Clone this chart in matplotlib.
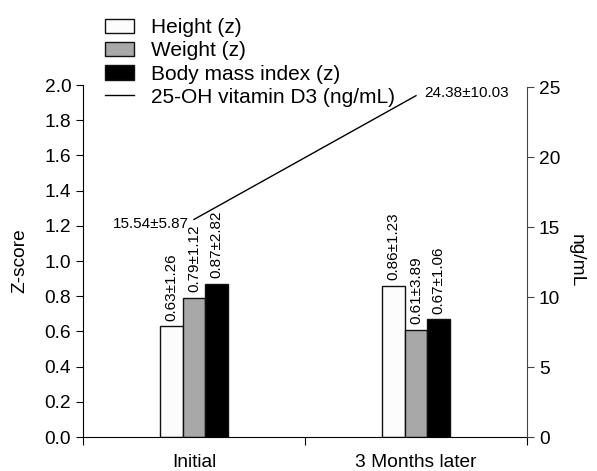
import matplotlib
matplotlib.use("Agg")
import matplotlib.pyplot as plt
from matplotlib.patches import Patch
from matplotlib.lines import Line2D
import numpy as np

plt.rcParams['font.family'] = ['Liberation Sans', 'DejaVu Sans']

categories = ["Initial", "3 Months later"]
height_z = [0.63, 0.86]
weight_z = [0.79, 0.61]
bmi_z = [0.87, 0.67]
height_lbl = ["0.63±1.26", "0.86±1.23"]
weight_lbl = ["0.79±1.12", "0.61±3.89"]
bmi_lbl = ["0.87±2.82", "0.67±1.06"]
vitd = [15.54, 24.38]
vitd_lbl = ["15.54±5.87", "24.38±10.03"]
series_names = ["Height (z)", "Weight (z)", "Body mass index (z)", "25-OH vitamin D3 (ng/mL)"]
left_ticks = [0.0, 0.2, 0.4, 0.6, 0.8, 1.0, 1.2, 1.4, 1.6, 1.8, 2.0]
right_ticks = [0, 5, 10, 15, 20, 25]

TS = 13.8
fig = plt.figure(figsize=(5.97, 4.71), dpi=100)
ax = fig.add_axes([83/597, 1-437/471, (527-83)/597, (437-85)/471])

x = np.arange(len(categories))
w = 0.101
colors = ["#fcfcfc", "#a8a8a8", "#000000"]
for i, (vals, lbls) in enumerate(zip([height_z, weight_z, bmi_z], [height_lbl, weight_lbl, bmi_lbl])):
    pos = x + (i - 1) * w
    ax.bar(pos, vals, width=w, color=colors[i], edgecolor="#111111", linewidth=1.0, zorder=2)
    for p, v, l in zip(pos, vals, lbls):
        ax.annotate(l, (p, v), xytext=(0, 4), textcoords="offset points",
                    rotation=90, ha="center", va="bottom", fontsize=11)

ax.set_xlim(-0.5, 1.5)
ax.set_ylim(0, 2.0)
ax.set_yticks(left_ticks)
ax.set_yticklabels([f"{t:.1f}" for t in left_ticks], fontsize=TS)
ax.set_ylabel("Z-score", fontsize=TS, labelpad=12)
ax.set_xticks([-0.5, 0.5, 1.5])
ax.set_xticklabels([])
ax.set_xticks(x, minor=True)
ax.set_xticklabels(categories, minor=True, fontsize=TS)
ax.tick_params(axis='x', which='minor', length=0, pad=12)
ax.tick_params(axis='x', which='major', length=6, direction='out')
ax.tick_params(axis='y', length=5, direction='out')
ax.spines['top'].set_visible(False)
ax.spines['right'].set_visible(False)

ax2 = ax.twinx()
ax2.set_ylim(0, 25 * 352 / 350)
ax2.set_yticks(right_ticks)
ax2.set_yticklabels([str(t) for t in right_ticks], fontsize=TS)
ax2.spines['right'].set_bounds(0, 25)
ax2.spines['right'].set_color("#444444")
ax2.spines['top'].set_visible(False)
ax2.spines['left'].set_visible(False)
ax2.spines['bottom'].set_visible(False)
ax2.tick_params(axis='y', length=5, direction='out', color="#444444")
ax2.set_ylabel("ng/mL", fontsize=TS, rotation=270, labelpad=18)
ax2.plot(x, vitd, color="black", linewidth=1.0)
ax2.annotate(vitd_lbl[0], (x[0], vitd[0]), xytext=(-4, -3), textcoords="offset points",
             ha="right", va="center", fontsize=11)
ax2.annotate(vitd_lbl[1], (x[1], vitd[1]), xytext=(6, 2), textcoords="offset points",
             ha="left", va="center", fontsize=11)

handles = [Patch(facecolor=colors[0], edgecolor="#111111", linewidth=1.0),
           Patch(facecolor=colors[1], edgecolor="#111111", linewidth=1.0),
           Patch(facecolor=colors[2], edgecolor="#111111", linewidth=1.0),
           Line2D([0], [0], color="black", linewidth=1.0)]
fig.legend(handles, series_names, loc="upper left", bbox_to_anchor=(99/597, 1-12/471),
           frameon=False, fontsize=15, handlelength=1.4, handletextpad=0.8,
           labelspacing=0.2, borderaxespad=0, borderpad=0.3)

fig.savefig("out.png", dpi=100)
